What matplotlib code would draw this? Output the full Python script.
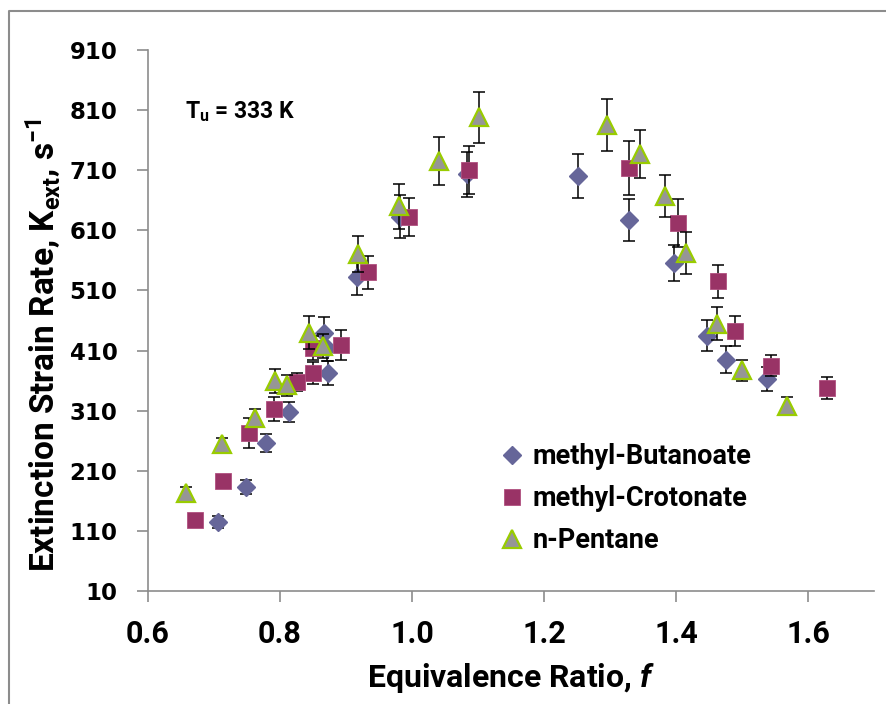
import matplotlib
matplotlib.use("Agg")
import matplotlib.pyplot as plt
from matplotlib.lines import Line2D

# ---- dados ----
mb_phi = [0.706, 0.748, 0.779, 0.814, 0.867, 0.873, 0.871, 0.917, 0.982, 1.083,
          1.252, 1.329, 1.397, 1.447, 1.476, 1.538]
mb_k = [125, 183, 257, 308, 440, 373, 415, 532, 633, 703,
        700, 627, 555, 435, 395, 362]
mb_err = [10, 12, 15, 17, 25, 20, 23, 30, 35, 38,
          37, 35, 30, 25, 22, 20]

mc_phi = [0.671, 0.714, 0.753, 0.791, 0.826, 0.850, 0.850, 0.892, 0.933, 0.995,
          1.086, 1.329, 1.403, 1.464, 1.489, 1.544, 1.629]
mc_k = [128, 193, 273, 312, 358, 373, 415, 420, 540, 632,
        710, 713, 622, 525, 442, 385, 348]
mc_err = [0, 10, 25, 20, 15, 18, 20, 25, 28, 32,
          40, 45, 40, 28, 25, 18, 18]

np_phi = [0.658, 0.712, 0.762, 0.792, 0.811, 0.844, 0.865, 0.918, 0.980, 1.041,
          1.102, 1.295, 1.345, 1.383, 1.415, 1.462, 1.500, 1.568]
np_k = [173, 255, 298, 360, 352, 440, 418, 570, 650, 725,
        798, 785, 737, 667, 572, 455, 377, 318]
np_err = [10, 10, 15, 20, 18, 28, 20, 30, 37, 40,
          42, 43, 40, 35, 35, 28, 18, 15]

xticks = [0.6, 0.8, 1.0, 1.2, 1.4, 1.6]
yticks = list(range(10, 911, 100))

fonte = ['Roboto', 'DejaVu Sans']
plt.rcParams['mathtext.fontset'] = 'custom'
plt.rcParams['mathtext.rm'] = 'Roboto:bold'
plt.rcParams['mathtext.it'] = 'Roboto:bold:italic'
plt.rcParams['mathtext.bf'] = 'Roboto:bold'

fig = plt.figure(figsize=(8.86, 7.04), dpi=100)
ax = fig.add_axes([148/886, 1-591/704, (874-148)/886, (591-50)/704])

# moldura da área do gráfico (só aparecem topo e lado esquerdo)
fx, fy = 8.5/886, 1 - 10.5/704
fig.lines.append(Line2D([fx, fx, 1.0], [0.0, fy, fy], transform=fig.transFigure,
                        color='#8c8c8c', linewidth=1.5))

# barras de erro + marcadores (cada série na ordem do Excel)
eb = dict(fmt='none', ecolor='black', elinewidth=1.1, capsize=4.5, capthick=1.1)
series = [
    (mb_phi, mb_k, mb_err, dict(marker='D', markersize=9.5, markerfacecolor='#666699',
                                markeredgecolor='#666699'), 'methyl-Butanoate'),
    (mc_phi, mc_k, mc_err, dict(marker='s', markersize=12, markerfacecolor='#993366',
                                markeredgecolor='#b0507f', markeredgewidth=0.6), 'methyl-Crotonate'),
    (np_phi, np_k, np_err, dict(marker='^', markersize=13, markerfacecolor='#969696',
                                markeredgecolor='#99cc00', markeredgewidth=1.6), 'n-Pentane'),
]
for x, y, e, mk, nome in series:
    ax.errorbar(x, y, yerr=e, **eb)
    ax.plot(x, y, linestyle='none', label=nome, **mk)

ax.set_xlim(0.6, 1.7)
ax.set_ylim(10, 910)
ax.set_xticks(xticks)
ax.set_xticklabels([f"{v:.1f}" for v in xticks], family=fonte, fontweight='bold', fontsize=22)
ax.set_yticks(yticks)
ax.set_yticklabels([str(v) for v in yticks], family='DejaVu Sans', fontweight='bold', fontsize=16.5)

for s in ['top', 'right']:
    ax.spines[s].set_visible(False)
for s in ['left', 'bottom']:
    ax.spines[s].set_color('#8c8c8c')
    ax.spines[s].set_linewidth(1.2)
ax.tick_params(axis='both', direction='out', length=8, width=1.2, color='#8c8c8c')
ax.tick_params(axis='y', pad=14)
ax.tick_params(axis='x', pad=12)

ax.set_xlabel(r"Equivalence Ratio, $\mathit{f}$", family=fonte, fontweight='bold',
              fontsize=23, labelpad=9)
ax.set_ylabel(r"Extinction Strain Rate, K$_\mathregular{ext}$, s$^\mathregular{-1}$",
              family=fonte, fontweight='bold', fontsize=24)
ax.yaxis.set_label_coords(-0.117, 0.455)

fig.text(185/886, 1-112/704, r"T$_\mathregular{u}$ = 333 K", family=fonte,
         fontweight='bold', fontsize=16.5, va='center', ha='left')

leg = ax.legend(loc='upper left', bbox_to_anchor=(477/886, 1-419/704), bbox_transform=fig.transFigure,
                frameon=False, handlelength=0.8, handletextpad=0.35, labelspacing=0.55,
                prop={'family': fonte, 'weight': 'bold', 'size': 19.5})

fig.savefig("out.png", dpi=100)
